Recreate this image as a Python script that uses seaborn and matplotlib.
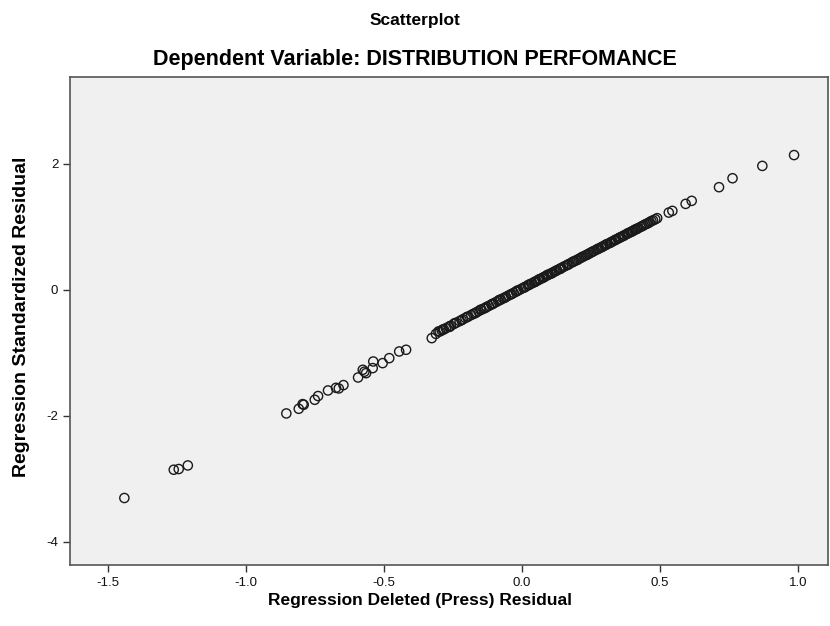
import matplotlib
matplotlib.use("Agg")
import matplotlib.pyplot as plt
import numpy as np
import pandas as pd
import seaborn as sns

# ── Data ───────────────────────────────────────────────────────
# tail points (low end and gap region)
tail_x = [-1.441, -1.262, -1.244, -1.211, -0.854, -0.809, -0.791, -0.795, -0.751,
          -0.739, -0.703, -0.674, -0.664, -0.647, -0.594, -0.577, -0.571, -0.565,
          -0.541, -0.539, -0.505, -0.481, -0.445, -0.420, -0.327, -0.303]
tail_y = [-3.306, -2.857, -2.846, -2.789, -1.963, -1.889, -1.825, -1.815, -1.746,
          -1.687, -1.598, -1.556, -1.566, -1.513, -1.392, -1.270, -1.300, -1.323,
          -1.243, -1.138, -1.164, -1.085, -0.979, -0.952, -0.767, -0.662]

# dense band
band_x = [-0.312, -0.298, -0.291, -0.283, -0.276, -0.265, -0.258, -0.247, -0.238,
          -0.226, -0.214, -0.205, -0.196, -0.184, -0.176, -0.165, -0.158, -0.147,
          -0.139, -0.128, -0.120, -0.111, -0.103, -0.094, -0.086, -0.077, -0.069,
          -0.058, -0.049, -0.041, -0.030, -0.022, -0.013, -0.004, 0.005, 0.013,
          0.021, 0.028, 0.036, 0.044, 0.051, 0.058, 0.066, 0.073, 0.081, 0.088,
          0.096, 0.103, 0.111, 0.118, 0.127, 0.135, 0.142, 0.156, 0.164, 0.172,
          0.181, 0.189, 0.197, 0.206, 0.214, 0.223, 0.231, 0.240, 0.252, 0.261,
          0.270, 0.278, 0.286, 0.294, 0.301, 0.309, 0.318, 0.326, 0.334, 0.341,
          0.349, 0.357, 0.364, 0.372, 0.380, 0.388, 0.395, 0.403, 0.412, 0.421,
          0.430, 0.441, 0.452, 0.463, 0.475, 0.490,
          -0.287, -0.262, -0.244, -0.219, -0.199, -0.170, -0.151, -0.133, -0.107,
          -0.082, -0.062, -0.037, -0.018, 0.009, 0.025, 0.047, 0.062, 0.078,
          0.092, 0.108, 0.123, 0.139, 0.149, 0.168, 0.185, 0.201, 0.218, 0.236,
          0.246, 0.256, 0.274, 0.290, 0.305, 0.322, 0.338, 0.353, 0.368, 0.384,
          0.399, 0.408, 0.417, 0.436, 0.447, 0.458, 0.469, 0.483]
band_y = [-0.700, -0.662, -0.645, -0.628, -0.610, -0.585, -0.570, -0.543, -0.522,
          -0.497, -0.468, -0.447, -0.428, -0.400, -0.381, -0.357, -0.340, -0.315,
          -0.298, -0.271, -0.255, -0.233, -0.215, -0.194, -0.176, -0.156, -0.137,
          -0.112, -0.091, -0.073, -0.048, -0.030, -0.009, 0.012, 0.032, 0.050,
          0.069, 0.085, 0.103, 0.121, 0.137, 0.153, 0.171, 0.187, 0.206, 0.222,
          0.240, 0.256, 0.274, 0.290, 0.311, 0.329, 0.345, 0.377, 0.395, 0.414,
          0.434, 0.452, 0.470, 0.491, 0.509, 0.530, 0.548, 0.568, 0.596, 0.617,
          0.637, 0.655, 0.673, 0.692, 0.707, 0.726, 0.745, 0.764, 0.782, 0.798,
          0.816, 0.835, 0.850, 0.869, 0.887, 0.905, 0.920, 0.939, 0.960, 0.980,
          1.000, 1.025, 1.050, 1.076, 1.103, 1.138,
          -0.630, -0.588, -0.530, -0.482, -0.430, -0.372, -0.318, -0.288, -0.226,
          -0.160, -0.125, -0.066, -0.015, 0.038, 0.082, 0.125, 0.166, 0.196,
          0.236, 0.262, 0.301, 0.334, 0.362, 0.401, 0.447, 0.476, 0.522, 0.557,
          0.583, 0.607, 0.648, 0.680, 0.720, 0.752, 0.792, 0.826, 0.857, 0.898,
          0.927, 0.952, 0.968, 1.012, 1.040, 1.060, 1.092, 1.120]

# upper end
top_x = [0.532, 0.545, 0.593, 0.615, 0.714, 0.763, 0.871, 0.986]
top_y = [1.227, 1.254, 1.365, 1.413, 1.630, 1.772, 1.968, 2.140]

x_ticks = [-1.5, -1.0, -0.5, 0.0, 0.5, 1.0]
y_ticks = [-4, -2, 0, 2]

df = pd.DataFrame({
    "deleted": tail_x + band_x + top_x,
    "standardized": tail_y + band_y + top_y,
})

# ── Plot ───────────────────────────────────────────────────────
sns.set_style("ticks")
plt.rcParams["font.family"] = ["Liberation Sans", "DejaVu Sans"]

fig = plt.figure(figsize=(8.3, 6.26), dpi=100)
ax = fig.add_axes([70 / 830, 61 / 626, 758 / 830, 488 / 626])
ax.set_facecolor("#F0F0F0")

sns.scatterplot(data=df, x="deleted", y="standardized", ax=ax,
                marker="o", s=44, facecolor="none", edgecolor="#1a1a1a",
                linewidth=1.0, legend=False)

ax.set_xlim(-1.638, 1.109)
ax.set_ylim(-4.37, 3.38)
ax.set_xticks(x_ticks)
ax.set_xticklabels([f"{t:.1f}" for t in x_ticks])
ax.set_yticks(y_ticks)
ax.set_yticklabels([str(t) for t in y_ticks])
ax.tick_params(axis="both", direction="out", length=5, width=1,
               color="#333333", labelsize=9.5, labelcolor="#111111")
for side in ["left", "bottom", "top", "right"]:
    ax.spines[side].set_color("#555555")
    ax.spines[side].set_linewidth(1.2)
ax.set_xlabel("")
ax.set_ylabel("")

fig.text(0.5, 1 - 20 / 626, "Scatterplot", ha="center", va="center",
         fontsize=12.5, fontweight="bold", color="black")
fig.text(0.5, 1 - 60 / 626, "Dependent Variable: DISTRIBUTION PERFOMANCE",
         ha="center", va="center", fontsize=15.5, fontweight="bold", color="black")
fig.text(420 / 830, 1 - 601 / 626, "Regression Deleted (Press) Residual",
         ha="center", va="center", fontsize=12.5, fontweight="bold", color="black")
fig.text(22 / 830, 1 - 317 / 626, "Regression Standardized Residual",
         ha="center", va="center", rotation=90, fontsize=14,
         fontweight="bold", color="black")

fig.savefig("out.png", dpi=100, facecolor="white")
plt.close(fig)
